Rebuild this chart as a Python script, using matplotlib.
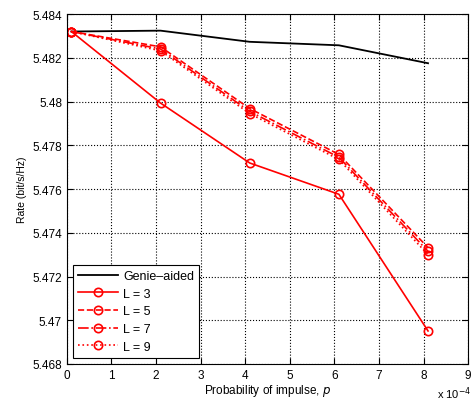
import matplotlib.pyplot as plt
from matplotlib.ticker import FuncFormatter

# p in units of 1e-4
p = [0.1, 2.1, 4.1, 6.1, 8.1]
genie = [5.4832, 5.48324, 5.48273, 5.48257, 5.48175]
rate_L3 = [5.4832, 5.47993, 5.47719, 5.47576, 5.46951]
rate_L5 = [5.4832, 5.48250, 5.47968, 5.47758, 5.47332]
rate_L7 = [5.4832, 5.48240, 5.47955, 5.47745, 5.47315]
rate_L9 = [5.4832, 5.48232, 5.47945, 5.47735, 5.47300]

plt.rcParams['font.family'] = ['Liberation Sans', 'DejaVu Sans']
plt.rcParams['font.size'] = 8.5

fig = plt.figure(figsize=(4.71, 4.06), dpi=100)
ax = fig.add_axes([0.142, 0.101, 0.852, 0.862])

mk = dict(marker='o', markersize=6, markerfacecolor='none', markeredgewidth=1.2)
ax.plot(p, genie, color='black', lw=1.3, label='Genie\u2013aided')
ax.plot(p, rate_L3, color='red', lw=1.2, linestyle='-', label='L = 3', **mk)
ax.plot(p, rate_L5, color='red', lw=1.2, linestyle='--', label='L = 5', **mk)
ax.plot(p, rate_L7, color='red', lw=1.2, linestyle='-.', label='L = 7', **mk)
ax.plot(p, rate_L9, color='red', lw=1.2, linestyle=':', label='L = 9', **mk)

ax.set_xlim(0, 9)
ax.set_ylim(5.468, 5.484)
ax.set_xticks(range(0, 10))
ax.set_yticks([5.468 + 0.002 * i for i in range(9)])
ax.yaxis.set_major_formatter(FuncFormatter(lambda v, pos: '%g' % round(v, 3)))
ax.tick_params(direction='in', length=4, width=0.8, top=True, right=True)
ax.grid(True, color='black', linestyle=':', linewidth=0.8)
for s in ax.spines.values():
    s.set_linewidth(0.8)

ax.set_xlabel('Probability of impulse, $p$', labelpad=1)
ax.set_ylabel('Rate (bit/s/Hz)', fontsize=7.5, labelpad=4)
fig.text(0.928, 0.018, 'x 10$^{-4}$', fontsize=8)

leg = ax.legend(loc='lower left', handlelength=3.2, numpoints=1, fancybox=False,
                edgecolor='black', framealpha=1, borderaxespad=0.5,
                labelspacing=0.45, handletextpad=0.4, fontsize=9)
leg.get_frame().set_linewidth(0.8)

fig.savefig('out.png', dpi=100)
